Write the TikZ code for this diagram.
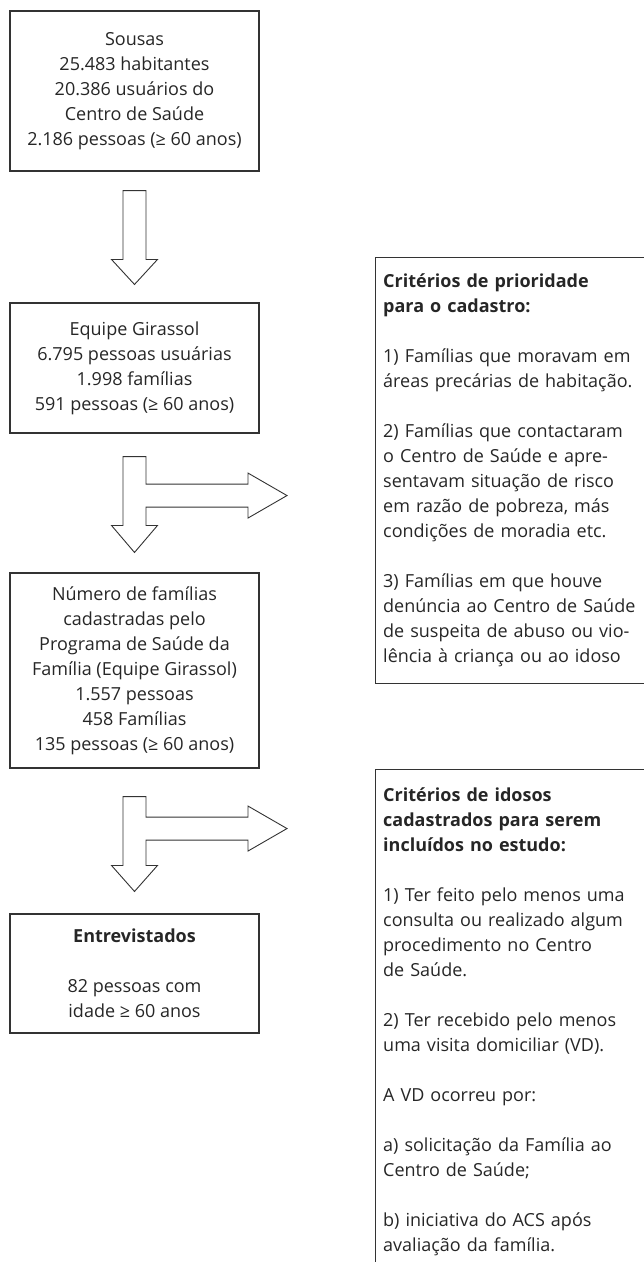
\documentclass[tikz,border=0pt]{standalone}
\usepackage{fontspec}
\setmainfont{Open Sans}
\usetikzlibrary{calc}
\begin{document}
\begin{tikzpicture}[x=1pt,y=-1pt,
  box/.style={draw=black!80, line width=1.1pt, rectangle, inner sep=0pt, align=center,
    text=black!85, font=\fontsize{18}{25}\selectfont},
  sidebox/.style={draw=black!80, line width=1.1pt, rectangle, inner sep=0pt, anchor=north west},
  sidetext/.style={align=left, text=black!85, font=\fontsize{18}{25}\selectfont, inner sep=0pt,
    text width=300pt},
  blockarrow/.style={draw=black!80, line width=0.9pt, fill=white, line join=miter}]
\useasboundingbox (0,0) rectangle (644,1262);
\clip (0,0) rectangle (644,1262);

% left column
\node[box, minimum width=249, minimum height=160] (b1) at (134.5,91)
  {Sousas\\25.483 habitantes\\20.386 usuários do\\Centro de Saúde\\2.186 pessoas (≥ 60 anos)};
\node[box, minimum width=249, minimum height=130] (b2) at (134.5,368)
  {Equipe Girassol\\6.795 pessoas usuárias\\1.998 famílias\\591 pessoas (≥ 60 anos)};
\node[box, minimum width=249, minimum height=195] (b3) at (134.5,670.5)
  {Número de famílias\\cadastradas pelo\\Programa de Saúde da\\Família (Equipe Girassol)\\1.557 pessoas\\458 Famílias\\135 pessoas (≥ 60 anos)};
\node[box, minimum width=249, minimum height=119] (b4) at (134.5,973.5)
  {\textbf{Entrevistados}\\[25pt]82 pessoas com\\idade ≥ 60 anos};

% right column
\node[sidebox, minimum width=320, minimum height=426] (c1) at (375,257) {};
\node[sidetext, anchor=west] (c1t) at ($(c1.west)+(8,0)$)
  {\textbf{Critérios de prioridade}\\\textbf{para o cadastro:}\\[25pt]
   1) Famílias que moravam em\\áreas precárias de habitação.\\[25pt]
   2) Famílias que contactaram\\o Centro de Saúde e apre-\\sentavam situação de risco\\em razão de pobreza, más\\condições de moradia etc.\\[25pt]
   3) Famílias em que houve\\denúncia ao Centro de Saúde\\de suspeita de abuso ou vio-\\lência à criança ou ao idoso};
\node[sidebox, minimum width=320, minimum height=540] (c2) at (375,769) {};
\node[sidetext, anchor=north west] (c2t) at ($(c2.north west)+(8,18)$)
  {\textbf{Critérios de idosos}\\\textbf{cadastrados para serem}\\\textbf{incluídos no estudo:}\\[25pt]
   1) Ter feito pelo menos uma\\consulta ou realizado algum\\procedimento no Centro\\de Saúde.\\[25pt]
   2) Ter recebido pelo menos\\uma visita domiciliar (VD).\\[25pt]
   A VD ocorreu por:\\[25pt]
   a) solicitação da Família ao\\Centro de Saúde;\\[25pt]
   b) iniciativa do ACS após\\avaliação da família.};

% arrow b1 -> b2
\draw[blockarrow]
  ($(b1.south)+(-11.5,19)$) -- ($(b1.south)+(11.5,19)$) -- ($(b2.north)+(11.5,-43)$)
  -- ($(b2.north)+(23,-43)$) -- ($(b2.north)+(0,-18)$) -- ($(b2.north)+(-23,-43)$)
  -- ($(b2.north)+(-11.5,-43)$) -- cycle;

% arrow b2 -> b3 and towards c1
\draw[blockarrow]
  ($(b2.south)+(-11.5,23)$) -- ($(b2.south)+(11.5,23)$) -- ($(b2.south)+(11.5,50.5)$)
  -- ($(b2.south)+(113.5,50.5)$) -- ($(b2.south)+(113.5,39.5)$)
  -- ($(b2.south)+(152.5,62)$)
  -- ($(b2.south)+(113.5,84.5)$) -- ($(b2.south)+(113.5,73.5)$)
  -- ($(b2.south)+(11.5,73.5)$) -- ($(b3.north)+(11.5,-47)$)
  -- ($(b3.north)+(23,-47)$) -- ($(b3.north)+(0,-20)$) -- ($(b3.north)+(-23,-47)$)
  -- ($(b3.north)+(-11.5,-47)$) -- cycle;

% arrow b3 -> b4 and towards c2
\draw[blockarrow]
  ($(b3.south)+(-11.5,28)$) -- ($(b3.south)+(11.5,28)$) -- ($(b3.south)+(11.5,48.5)$)
  -- ($(b3.south)+(113.5,48.5)$) -- ($(b3.south)+(113.5,37.5)$)
  -- ($(b3.south)+(152.5,60)$)
  -- ($(b3.south)+(113.5,82.5)$) -- ($(b3.south)+(113.5,71.5)$)
  -- ($(b3.south)+(11.5,71.5)$) -- ($(b4.north)+(11.5,-48)$)
  -- ($(b4.north)+(23,-48)$) -- ($(b4.north)+(0,-22)$) -- ($(b4.north)+(-23,-48)$)
  -- ($(b4.north)+(-11.5,-48)$) -- cycle;
\end{tikzpicture}
\end{document}
